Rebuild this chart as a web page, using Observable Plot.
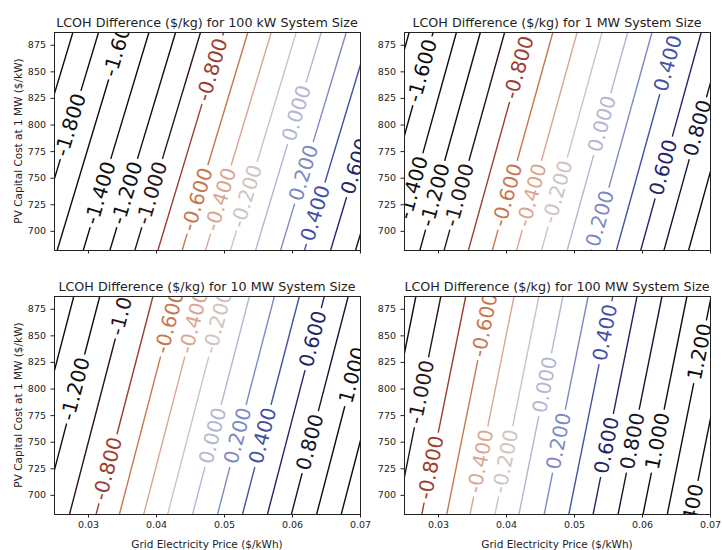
<!DOCTYPE html>
<html>
<head>
<meta charset="utf-8">
<script src="https://cdn.jsdelivr.net/npm/d3@7"></script>
<script src="https://cdn.jsdelivr.net/npm/@observablehq/plot@0.6"></script>
<style>
  body { margin: 0; background: #fff; font-family: "DejaVu Sans", sans-serif; }
  #fig { position: relative; width: 722px; height: 550px; overflow: hidden; background: #fff; }
  .panel { position: absolute; }
  .title { position: absolute; font-size: 12.7px; color: #222; white-space: nowrap; transform: translate(-50%, -50%); }
  .ylab { position: absolute; font-size: 10.5px; color: #222; white-space: nowrap; transform: translate(-50%, -50%) rotate(-90deg); }
  .xlab { position: absolute; font-size: 10.5px; color: #222; white-space: nowrap; transform: translate(-50%, -50%); }
</style>
</head>
<body>
<div id="fig"></div>
<script>
// ---- axes ----
const priceDomain = [0.025, 0.07];
const costDomain = [682, 887];
const priceTicks = [0.03, 0.04, 0.05, 0.06, 0.07];
const costTicks = [700, 725, 750, 775, 800, 825, 850, 875];
const titles = [
  "LCOH Difference ($/kg) for 100 kW System Size",
  "LCOH Difference ($/kg) for 1 MW System Size",
  "LCOH Difference ($/kg) for 10 MW System Size",
  "LCOH Difference ($/kg) for 100 MW System Size"
];
const xLabel = "Grid Electricity Price ($/kWh)";
const yLabel = "PV Capital Cost at 1 MW ($/kW)";

// ---- 100 kW: contour level, grid price where it meets the lowest and highest PV cost ----
const kw100Levels = [-2.0, -1.8, -1.6, -1.4, -1.2, -1.0, -0.8, -0.6, -0.4, -0.2, 0.0, 0.2, 0.4, 0.6, 0.8];
const kw100PriceLow  = [0.01804, 0.02181, 0.02539, 0.02922, 0.03314, 0.03681, 0.04020, 0.04377, 0.04721, 0.05088, 0.05456, 0.05824, 0.06176, 0.06559, 0.06926];
const kw100PriceHigh = [0.02770, 0.03147, 0.03505, 0.03888, 0.04280, 0.04647, 0.04986, 0.05343, 0.05687, 0.06054, 0.06422, 0.06790, 0.07142, 0.07525, 0.07892];
const kw100LabelLevels = [-1.8, -1.6, -1.4, -1.2, -1.0, -0.8, -0.6, -0.4, -0.2, 0.0, 0.2, 0.4, 0.6];
const kw100LabelCost   = [800, 875, 736, 736, 736, 852, 730, 730, 733, 811, 755, 717, 761];

// ---- 1 MW ----
const mw1Levels = [-1.8, -1.6, -1.4, -1.2, -1.0, -0.8, -0.6, -0.4, -0.2, 0.0, 0.2, 0.4, 0.6, 0.8, 1.0, 1.2];
const mw1PriceLow  = [0.01678, 0.02030, 0.02373, 0.02725, 0.03082, 0.03439, 0.03791, 0.04148, 0.04515, 0.04892, 0.05249, 0.05616, 0.05973, 0.06315, 0.06677, 0.07034];
const mw1PriceHigh = [0.02568, 0.02920, 0.03263, 0.03615, 0.03972, 0.04329, 0.04681, 0.05038, 0.05405, 0.05782, 0.06139, 0.06506, 0.06863, 0.07205, 0.07567, 0.07924];
const mw1LabelLevels = [-1.6, -1.4, -1.2, -1.0, -0.8, -0.6, -0.4, -0.2, 0.0, 0.2, 0.4, 0.6, 0.8];
const mw1LabelCost   = [851, 741, 734, 734, 854, 734, 734, 737, 801, 712, 858, 760, 797];

// ---- 10 MW ----
const mw10Levels = [-1.4, -1.2, -1.0, -0.8, -0.6, -0.4, -0.2, 0.0, 0.2, 0.4, 0.6, 0.8, 1.0, 1.2];
const mw10PriceLow  = [0.01947, 0.02329, 0.02720, 0.03111, 0.03454, 0.03811, 0.04163, 0.04530, 0.04897, 0.05264, 0.05631, 0.05983, 0.06354, 0.06716];
const mw10PriceHigh = [0.02783, 0.03165, 0.03556, 0.03947, 0.04290, 0.04647, 0.04999, 0.05366, 0.05733, 0.06100, 0.06467, 0.06819, 0.07190, 0.07552];
const mw10LabelLevels = [-1.2, -1.0, -0.8, -0.6, -0.4, -0.2, 0.0, 0.2, 0.4, 0.6, 0.8, 1.0];
const mw10LabelCost   = [800, 880, 725, 863, 863, 863, 756, 756, 756, 847, 750, 813];

// ---- 100 MW ----
const mw100Levels = [-1.2, -1.0, -0.8, -0.6, -0.4, -0.2, 0.0, 0.2, 0.4, 0.6, 0.8, 1.0, 1.2, 1.4, 1.6];
const mw100PriceLow  = [0.02021, 0.02388, 0.02754, 0.03121, 0.03464, 0.03830, 0.04183, 0.04554, 0.04916, 0.05273, 0.05640, 0.06007, 0.06364, 0.06716, 0.07069];
const mw100PriceHigh = [0.02667, 0.03034, 0.03400, 0.03767, 0.04110, 0.04476, 0.04829, 0.05200, 0.05562, 0.05919, 0.06286, 0.06653, 0.07010, 0.07362, 0.07715];
const mw100LabelLevels = [-1.0, -0.8, -0.6, -0.4, -0.2, 0.0, 0.2, 0.4, 0.6, 0.8, 1.0, 1.2, 1.4];
const mw100LabelCost   = [797, 726, 860, 732, 732, 804, 751, 853, 747, 751, 751, 835, 684];

// ---- contour colours by level ----
const colorLevels = [-2.0, -1.8, -1.6, -1.4, -1.2, -1.0, -0.8, -0.6, -0.4, -0.2, 0.0, 0.2, 0.4, 0.6, 0.8, 1.0, 1.2, 1.4, 1.6];
const colorValues = ["#0e0e0e", "#0e0e0e", "#0e0e0e", "#0e0e0e", "#100e0f", "#2a1418", "#9c3d2f", "#c9754d", "#dba690", "#cfc4c2",
                     "#b3b7d3", "#7c89c4", "#4450a6", "#23256a", "#15152e", "#0e0e0e", "#0e0e0e", "#0e0e0e", "#0e0e0e"];
function colorOf(lv) {
  let best = 0;
  for (let i = 0; i < colorLevels.length; i++) if (Math.abs(colorLevels[i] - lv) < Math.abs(colorLevels[best] - lv)) best = i;
  return colorValues[best];
}

// ---- layout ----
const FW = 306, FH = 218;
const LABEL_FONT = 20;
const glyphEm = {"-": 0.361, ".": 0.318};
function textWidth(s) { let w = 0; for (const c of s) w += glyphEm[c] ?? 0.636; return w * LABEL_FONT; }

const panels = [
  {levels: kw100Levels, lo: kw100PriceLow, hi: kw100PriceHigh, labL: kw100LabelLevels, labC: kw100LabelCost, left: 0, top: 0, ml: 54, mt: 32, showX: false, showYLabel: true},
  {levels: mw1Levels, lo: mw1PriceLow, hi: mw1PriceHigh, labL: mw1LabelLevels, labC: mw1LabelCost, left: 361, top: 0, ml: 43, mt: 32, showX: false, showYLabel: false},
  {levels: mw10Levels, lo: mw10PriceLow, hi: mw10PriceHigh, labL: mw10LabelLevels, labC: mw10LabelCost, left: 0, top: 275, ml: 54, mt: 21, showX: true, showYLabel: true},
  {levels: mw100Levels, lo: mw100PriceLow, hi: mw100PriceHigh, labL: mw100LabelLevels, labC: mw100LabelCost, left: 361, top: 275, ml: 43, mt: 21, showX: true, showYLabel: false}
];

const fig = document.getElementById("fig");
const W = 361, H = 275;

panels.forEach((p, k) => {
  const span = costDomain[1] - costDomain[0];
  const labels = p.labL.map((lv, j) => {
    const i = p.levels.indexOf(lv);
    const t = (p.labC[j] - costDomain[0]) / span;
    const dxPx = (p.hi[i] - p.lo[i]) / (priceDomain[1] - priceDomain[0]) * FW;
    const text = lv.toFixed(3);
    const lenPx = Math.hypot(dxPx, FH);
    return {
      idx: i, level: lv, t, cost: p.labC[j],
      price: p.lo[i] + (p.hi[i] - p.lo[i]) * t,
      text,
      halfGap: (textWidth(text) / 2 + 4) / lenPx,
      angle: -Math.atan2(FH, dxPx) * 180 / Math.PI
    };
  });

  // split each contour into pieces, leaving a gap where its label sits
  const segs = [];
  p.levels.forEach((lv, i) => {
    const gaps = labels.filter(l => l.idx === i).map(l => [l.t - l.halfGap, l.t + l.halfGap]).sort((a, b) => a[0] - b[0]);
    let start = 0, piece = 0;
    const pushPiece = (a, b) => {
      if (b <= a) return;
      for (const tt of [a, b]) segs.push({key: lv + "_" + piece, level: lv, price: p.lo[i] + (p.hi[i] - p.lo[i]) * tt, cost: costDomain[0] + span * tt});
      piece++;
    };
    for (const [a, b] of gaps) { pushPiece(start, Math.max(0, a)); start = Math.min(1, b); }
    pushPiece(start, 1);
  });

  const chart = Plot.plot({
    width: W, height: H,
    marginLeft: p.ml, marginTop: p.mt,
    marginRight: W - p.ml - FW, marginBottom: H - p.mt - FH,
    x: {domain: priceDomain},
    y: {domain: costDomain},
    color: {type: "identity"},
    style: {fontFamily: "DejaVu Sans", fontSize: "9.5px", color: "#222", background: "transparent", overflow: "visible"},
    marks: [
      Plot.line(segs, {x: "price", y: "cost", z: "key", stroke: d => colorOf(d.level), strokeWidth: 1.4, clip: true}),
      Plot.text(labels, {x: "price", y: "cost", text: "text", rotate: "angle",
        fill: d => colorOf(d.level), fontSize: LABEL_FONT, fontFamily: "DejaVu Sans", clip: true}),
      Plot.frame({stroke: "#222", strokeWidth: 1}),
      Plot.axisX({ticks: priceTicks, tickSize: 3.5, tickPadding: 3, label: null,
        tickFormat: p.showX ? (d => d.toFixed(2)) : (() => "")}),
      Plot.axisY({ticks: costTicks, tickSize: 3.5, tickPadding: 5, label: null, tickFormat: d => String(d)})
    ]
  });
  chart.classList.add("panel");
  chart.style.left = p.left + "px";
  chart.style.top = p.top + "px";
  fig.appendChild(chart);

  const cx = p.left + p.ml + FW / 2;
  const t = document.createElement("div");
  t.className = "title";
  t.textContent = titles[k];
  t.style.left = cx + "px";
  t.style.top = (p.top + p.mt - 10) + "px";
  fig.appendChild(t);

  if (p.showYLabel) {
    const yl = document.createElement("div");
    yl.className = "ylab";
    yl.textContent = yLabel;
    yl.style.left = "18px";
    yl.style.top = (p.top + p.mt + FH / 2) + "px";
    fig.appendChild(yl);
  }
  if (p.showX) {
    const xl = document.createElement("div");
    xl.className = "xlab";
    xl.textContent = xLabel;
    xl.style.left = cx + "px";
    xl.style.top = "544px";
    fig.appendChild(xl);
  }
});
</script>
</body>
</html>
